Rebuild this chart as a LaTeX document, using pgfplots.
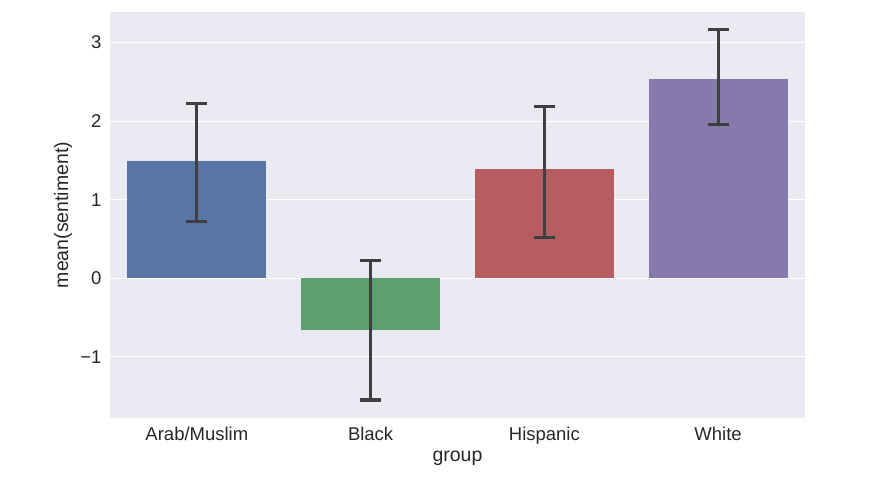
\documentclass[border=0pt]{standalone}
\usepackage{pgfplots}
\pgfplotsset{compat=1.18}
\usepackage{fontspec}
\setmainfont{Liberation Sans}
\definecolor{bg}{HTML}{EAEAF2}
\definecolor{cA}{HTML}{5975A4}
\definecolor{cB}{HTML}{5F9E6E}
\definecolor{cC}{HTML}{B55D60}
\definecolor{cD}{HTML}{857AAB}
\definecolor{err}{HTML}{3F3F3F}
\definecolor{txt}{HTML}{262626}
\begin{document}
\begin{tikzpicture}
\useasboundingbox (-110pt,-74pt) rectangle (762pt,418pt);
\begin{axis}[
  at={(0,0)}, anchor=south west,
  scale only axis, width=695pt, height=406pt,
  xmin=-0.5, xmax=3.5, ymin=-1.78, ymax=3.39,
  ybar, bar width=0.8, bar shift=0pt,
  axis background/.style={fill=bg},
  axis line style={draw=none},
  major tick length=0pt,
  xtick={0,1,2,3},
  xticklabels={Arab/Muslim,Black,Hispanic,White},
  ytick={-1,0,1,2,3},
  yticklabels={−1,0,1,2,3},
  ymajorgrids, xmajorgrids=false,
  major grid style={white, line width=1.3pt},
  tick label style={font=\fontsize{18.5}{21}\selectfont, text=txt},
  xticklabel style={yshift=-6pt},
  yticklabel style={xshift=-5pt},
  xlabel={group}, ylabel={mean(sentiment)},
  every axis x label/.style={at={(axis description cs:0.5,0)}, anchor=center, yshift=-40pt, font=\fontsize{19.5}{22}\selectfont, text=txt},
  every axis y label/.style={at={(axis description cs:0,0.5)}, xshift=-47pt, rotate=90, anchor=center, font=\fontsize{19.5}{22}\selectfont, text=txt},
  error bars/y dir=both, error bars/y explicit,
  error bars/error bar style={line width=3.2pt, err},
  error bars/error mark options={rotate=90, mark size=10.5pt, line width=3.2pt, err},
]
\addplot[fill=cA, draw=none] coordinates {(0,1.49) += (0,0.73) -= (0,0.77)};
\addplot[fill=cB, draw=none] coordinates {(1,-0.66) += (0,0.89) -= (0,0.89)};
\addplot[fill=cC, draw=none] coordinates {(2,1.39) += (0,0.80) -= (0,0.87)};
\addplot[fill=cD, draw=none] coordinates {(3,2.54) += (0,0.63) -= (0,0.58)};
\end{axis}
\end{tikzpicture}
\end{document}
